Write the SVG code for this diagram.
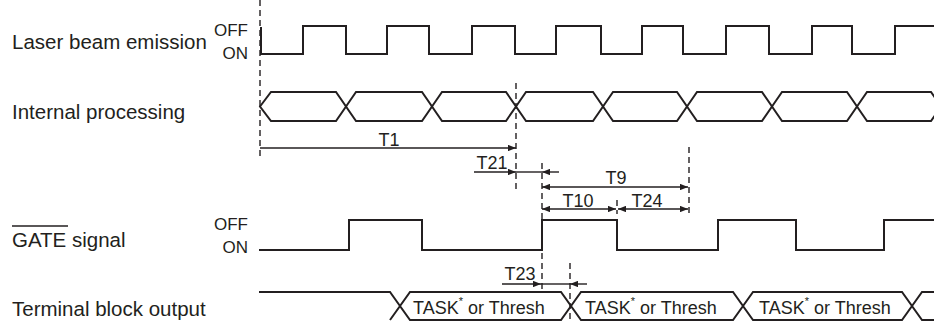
<svg xmlns="http://www.w3.org/2000/svg" width="934" height="321" viewBox="0 0 934 321">
<defs>
<style>
.lbl{font-family:"Liberation Sans",Arial,sans-serif;font-size:20.5px;fill:#231f20}
.st{font-family:"Liberation Sans",Arial,sans-serif;font-size:17px;fill:#231f20;text-anchor:end}
.tl{font-family:"Liberation Sans",Arial,sans-serif;font-size:18px;fill:#231f20;text-anchor:middle}
.bt{font-family:"Liberation Sans",Arial,sans-serif;font-size:18px;fill:#231f20}
.wave{fill:none;stroke:#231f20;stroke-width:2;stroke-linejoin:miter}
.dash{fill:none;stroke:#231f20;stroke-width:1.4;stroke-dasharray:6 4}
.arr{fill:none;stroke:#231f20;stroke-width:1.4}
.ah{marker-end:url(#ah)}
.ahb{marker-start:url(#ah);marker-end:url(#ah)}
</style>
<marker id="ah" viewBox="0 0 10 8" refX="10" refY="4" markerWidth="8" markerHeight="6.4" markerUnits="userSpaceOnUse" orient="auto-start-reverse">
<path d="M0,0 L10,4 L0,8 Z" fill="#231f20"/>
</marker>
</defs>
<rect width="934" height="321" fill="#ffffff"/>

<g id="laser">
<text class="lbl" x="12" y="49">Laser beam emission</text>
<text class="st" x="248" y="36">OFF</text>
<text class="st" x="248" y="59">ON</text>
<path class="wave" d="M261,27 V54 H303 V26 H346 V54 H387 V26 H429 V54 H472 V26 H515 V54 H556 V26 H601 V54 H642 V26 H683 V54 H726 V26 H769 V54 H812 V26 H852 V54 H895 V26 H934"/>
</g>

<g id="internal">
<text class="lbl" x="12" y="119">Internal processing</text>
<g class="wave">
<polygon points="260,106.5 271,92 336,92 346,106.5 336,121 271,121"/>
<polygon points="346,106.5 356,92 422,92 432,106.5 422,121 356,121"/>
<polygon points="432,106.5 442,92 506,92 516,106.5 506,121 442,121"/>
<polygon points="516,106.5 526,92 593,92 603,106.5 593,121 526,121"/>
<polygon points="603,106.5 613,92 677,92 687,106.5 677,121 613,121"/>
<polygon points="687,106.5 697,92 762,92 772,106.5 762,121 697,121"/>
<polygon points="772,106.5 782,92 847,92 857,106.5 847,121 782,121"/>
<polygon points="857,106.5 867,92 931,92 941,106.5 931,121 867,121"/>
</g>
</g>

<g id="gate">
<text class="lbl" x="12" y="247">GATE signal</text>
<line x1="12" y1="226" x2="68" y2="226" stroke="#231f20" stroke-width="1.3"/>
<text class="st" x="248" y="230">OFF</text>
<text class="st" x="248" y="253">ON</text>
<path class="wave" d="M259,250 H349 V220 H422 V250 H542 V220 H617 V250 H718 V220 H796 V250 H884 V220 H934"/>
</g>

<g id="terminal">
<text class="lbl" x="12" y="316">Terminal block output</text>
<g class="wave">
<path d="M259,292 H390 L400,306 M390,320 L400,306"/>
<polygon points="400,306 410,292 561,292 571,306 561,320 410,320"/>
<polygon points="571,306 581,292 733,292 743,306 733,320 581,320"/>
<polygon points="743,306 753,292 902,292 912,306 902,320 753,320"/>
<polygon points="912,306 922,292 990,292 1000,306 990,320 922,320"/>
</g>
<text class="bt" x="413" y="314">TASK<tspan font-size="11" dy="-9">*</tspan><tspan dy="9"> or Thresh</tspan></text>
<text class="bt" x="585" y="314">TASK<tspan font-size="11" dy="-9">*</tspan><tspan dy="9"> or Thresh</tspan></text>
<text class="bt" x="759" y="314">TASK<tspan font-size="11" dy="-9">*</tspan><tspan dy="9"> or Thresh</tspan></text>
</g>

<g id="connectors">
<g class="dash">
<line x1="260" y1="0" x2="260" y2="157"/>
<line x1="516" y1="83" x2="516" y2="190"/>
<line x1="542" y1="163" x2="542" y2="292"/>
<line x1="689" y1="147" x2="689" y2="215"/>
<line x1="617" y1="200" x2="617" y2="214"/>
<line x1="570" y1="263" x2="570" y2="321"/>
</g>
<g class="arr">
<line class="ah" x1="260" y1="148" x2="516" y2="148"/>
<line class="ah" x1="474" y1="172" x2="516" y2="172"/>
<line x1="516" y1="172" x2="542" y2="172"/>
<line class="ah" x1="559" y1="172" x2="542" y2="172"/>
<line class="ahb" x1="542" y1="187" x2="688" y2="187"/>
<line class="ahb" x1="542" y1="209" x2="616" y2="209"/>
<line class="ahb" x1="618" y1="209" x2="688" y2="209"/>
<line class="ah" x1="502" y1="284" x2="541" y2="284"/>
<line x1="541" y1="284" x2="570" y2="284"/>
<line class="ah" x1="587" y1="284" x2="570" y2="284"/>
</g>
<text class="tl" x="389" y="146">T1</text>
<text class="tl" x="492" y="169">T21</text>
<text class="tl" x="616" y="184">T9</text>
<text class="tl" x="578" y="207">T10</text>
<text class="tl" x="647" y="207">T24</text>
<text class="tl" x="520" y="280">T23</text>
</g>
</svg>
